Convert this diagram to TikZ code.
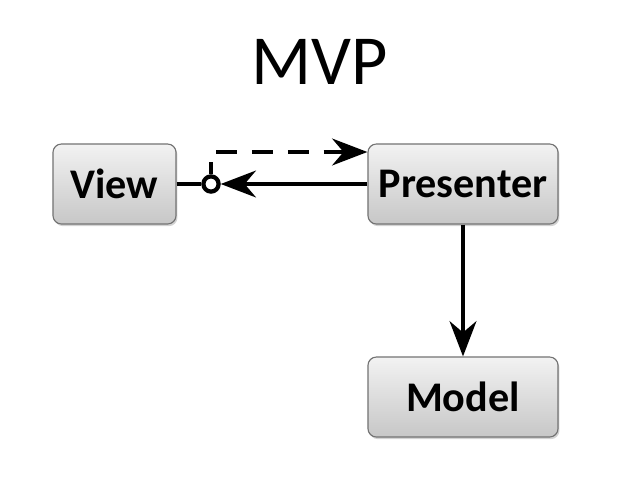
\documentclass[tikz,border=0pt]{standalone}
\usepackage{fontspec}
\setmainfont{Carlito}
\usetikzlibrary{arrows.meta,shadows}
\begin{document}
\begin{tikzpicture}[x=0.025cm,y=-0.025cm,
  box/.style={draw=black!55,line width=0.8pt,rounded corners=6pt,
    top color=black!5,bottom color=black!22,
    minimum height=2cm,inner sep=0pt,
    font=\fontsize{30}{32}\selectfont\bfseries,
    drop shadow={shadow xshift=1pt,shadow yshift=-1.5pt,opacity=0.35}},
  conn/.style={line width=3.2pt},
  tip/.style={-{Stealth[length=25pt,width=19pt,inset=8pt]}}]
\useasboundingbox (0,0) rectangle (640,480);
\node[font=\fontsize{50}{52}\selectfont] (title) at (320,62) {MVP};
\node[box,minimum width=3.075cm] (view) at (114.5,184) {View};
\node[box,minimum width=4.75cm] (pres) at (463,184) {Presenter};
\node[box,minimum width=4.75cm] (model) at (463,397) {Model};
\node[circle,draw,fill=white,line width=3pt,minimum size=0.38cm,inner sep=0pt] (dot) at (211,184) {};
\coordinate (corner) at (211,152);
\draw[conn] (view.east) -- (dot.west);
\draw[conn,tip] (pres.west) -- (dot.east);
\draw[conn,tip,dash pattern=on 15pt off 10.5pt,dash phase=6pt] (dot.north) -- (corner) -- (pres.west |- corner);
\draw[conn,tip] (pres.south) -- (model.north);
\end{tikzpicture}
\end{document}
